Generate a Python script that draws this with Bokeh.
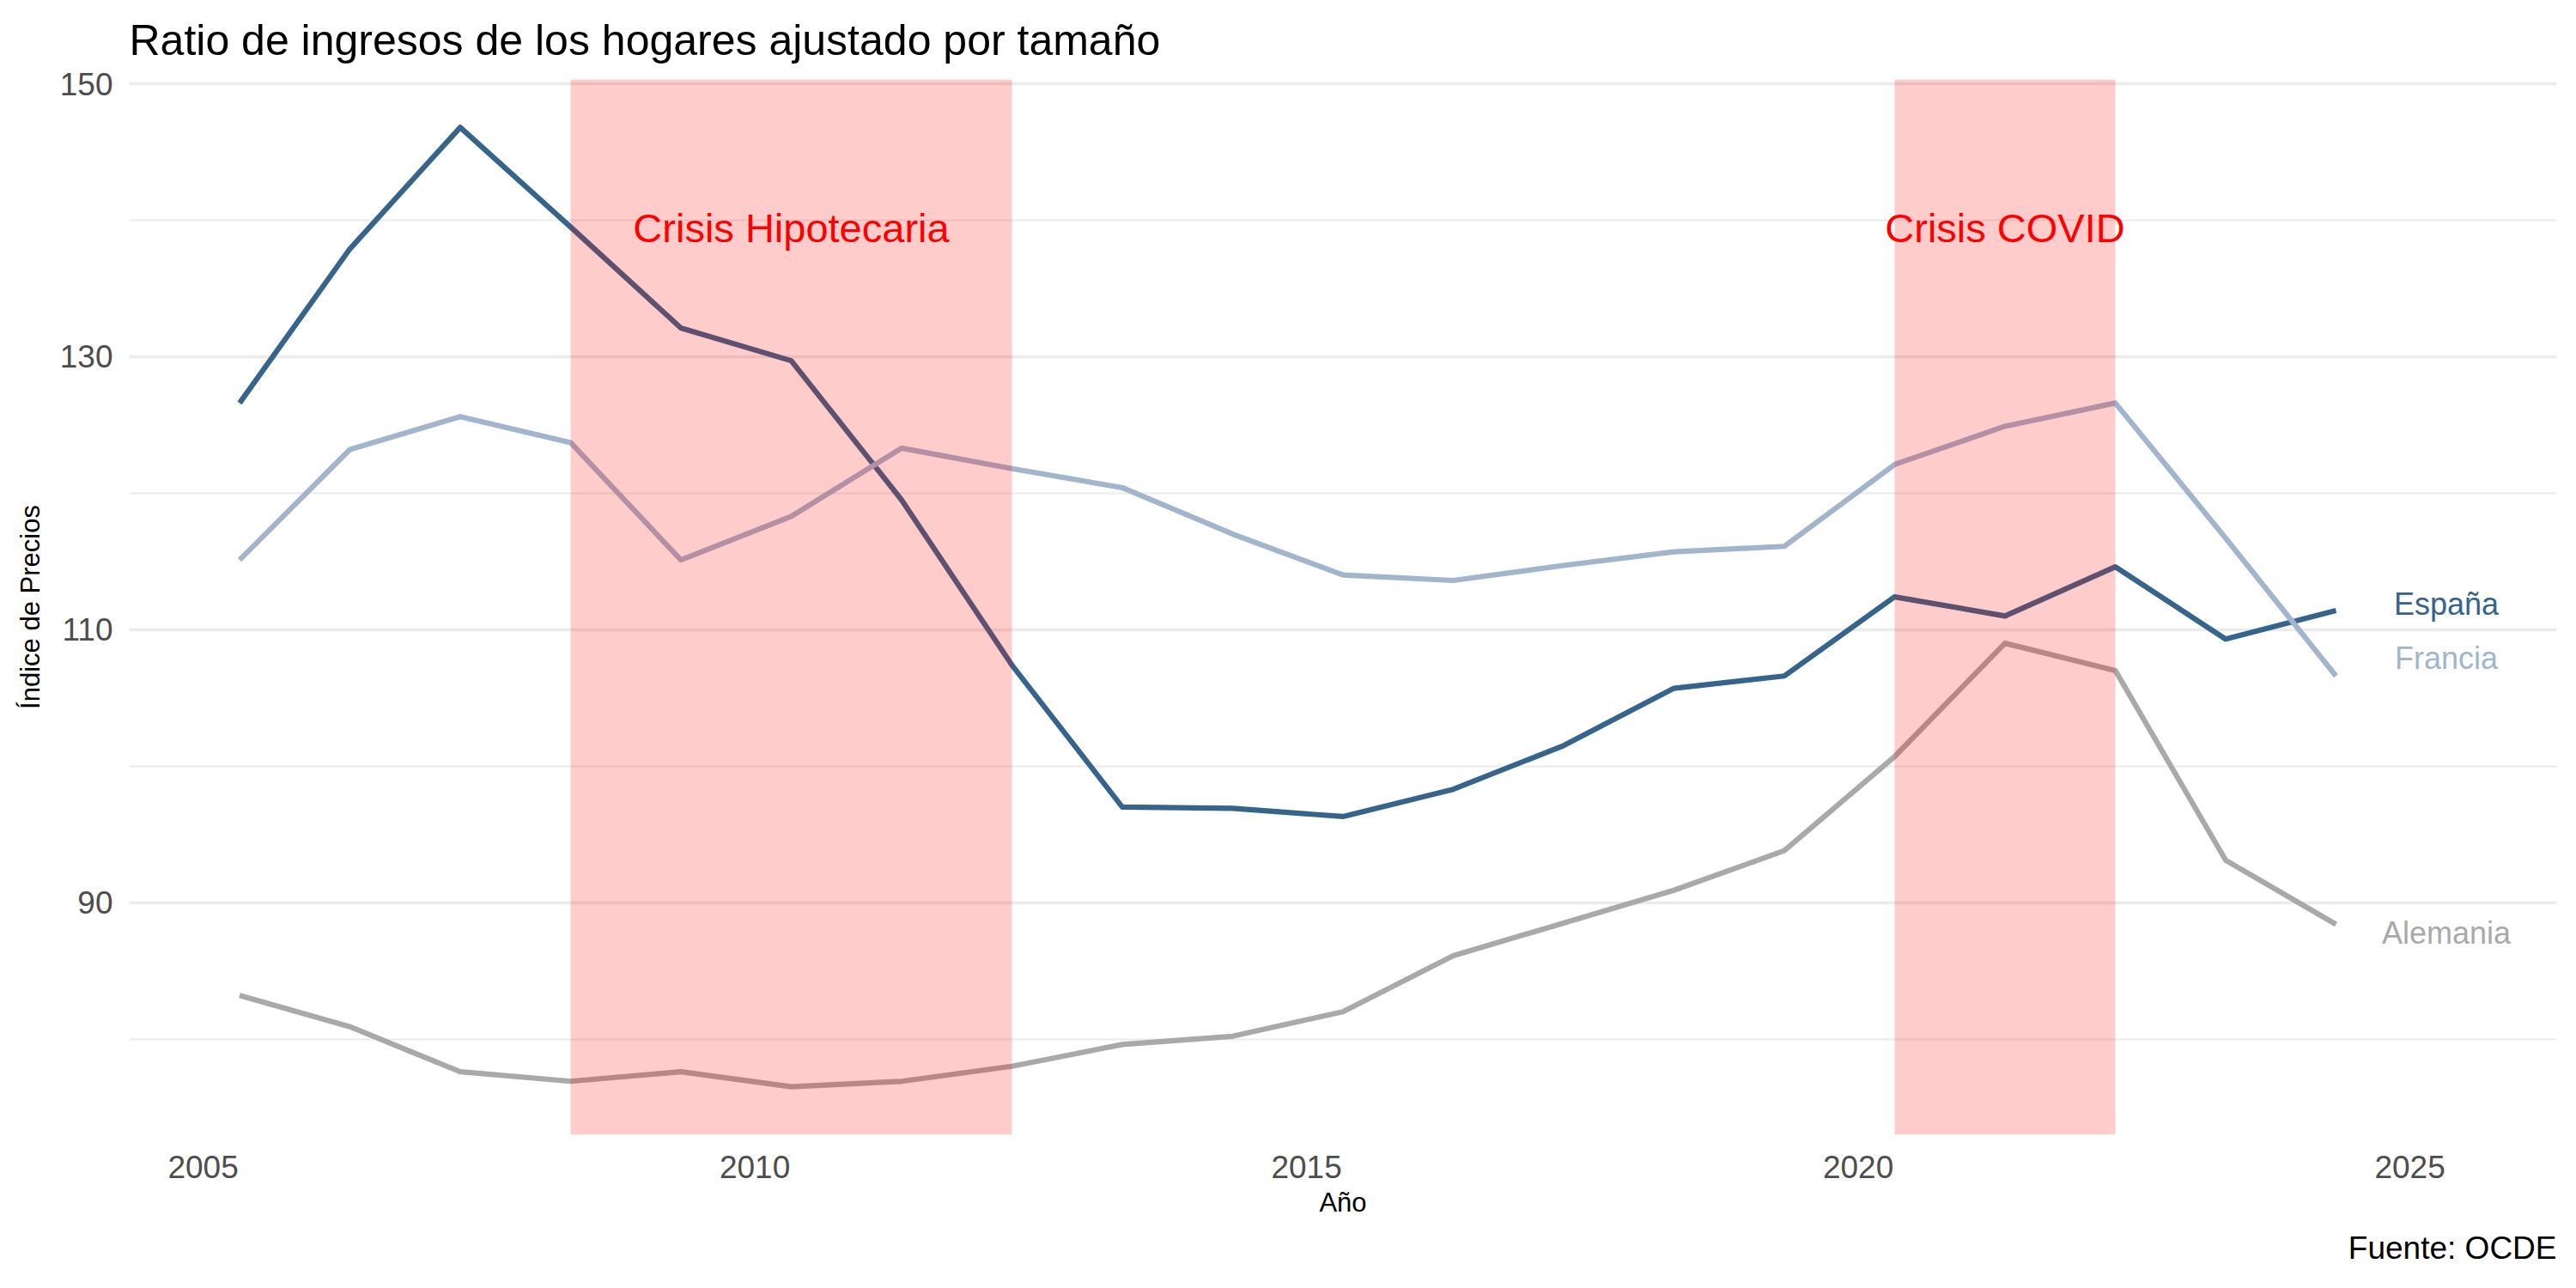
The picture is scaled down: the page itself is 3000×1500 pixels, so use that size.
import numpy as np
from bokeh.plotting import figure
from bokeh.models import Range1d, FixedTicker, Title
from bokeh.core.properties import value
from bokeh.embed import file_html
from bokeh.resources import INLINE

# ---------------- data ----------------
anios = list(range(2005, 2025))
fecha_offset = 0.33  # observations dated around 1 May of each year

espana = [126.6, 137.9, 146.8, 139.5, 132.1, 129.7, 119.5, 107.4, 97.0, 96.9,
          96.3, 98.3, 101.5, 105.7, 106.6, 112.4, 111.0, 114.6, 109.3, 111.4]
francia = [115.1, 123.2, 125.6, 123.7, 115.1, 118.3, 123.3, 121.8, 120.4, 117.0,
           114.0, 113.6, 114.7, 115.7, 116.1, 122.1, 124.9, 126.6, 116.7, 106.6]
alemania = [83.2, 80.9, 77.6, 76.9, 77.6, 76.5, 76.9, 78.0, 79.6, 80.2,
            82.0, 86.1, 88.5, 90.9, 93.8, 100.7, 109.0, 107.0, 93.1, 88.4]

paises = ["España", "Francia", "Alemania"]
series = [espana, francia, alemania]
colores = ["#36648B", "#A2B5CD", "#A9A9A9"]
etiqueta_nudge = [0.5, 1.3, -0.6]

crisis_nombres = ["Crisis Hipotecaria", "Crisis COVID"]
crisis_inicio = [2008, 2020]
crisis_fin = [2012, 2022]
crisis_label_y = 139.4

x_ticks = [2005, 2010, 2015, 2020, 2025]
y_ticks = [90, 110, 130, 150]
y_minor = [80, 100, 120, 140]

titulo = "Ratio de ingresos de los hogares ajustado por tamaño"
fuente = "Fuente: OCDE"

FONT = "Liberation Sans"

# ---------------- derived ----------------
x = [a + fecha_offset for a in anios]
x_label = x[-1] + 1
all_y = espana + francia + alemania
ymin, ymax = min(all_y), max(all_y)
ypad = 0.05 * (ymax - ymin)
xmin, xmax = x[0], x_label
xpad = 0.05 * (xmax - xmin)
y_start, y_end = ymin - ypad, ymax + ypad
x_start, x_end = xmin - xpad, xmax + xpad

p = figure(width=2984, height=1484, output_backend="svg", toolbar_location=None,
           x_range=Range1d(x_start, x_end),
           y_range=Range1d(y_start, y_end),
           min_border_left=150, min_border_right=7,
           min_border_top=92, min_border_bottom=163)

p.outline_line_color = None
p.background_fill_color = "white"
p.border_fill_color = "white"

p.title.text = titulo
p.title.text_font = FONT
p.title.text_font_size = "50px"
p.title.text_font_style = "normal"
p.title.text_color = "black"
p.title.align = "left"
p.title.vertical_align = "top"
p.title.standoff = 32
p.title.offset = 0

# axes
for ax in (p.xaxis[0], p.yaxis[0]):
    ax.axis_line_color = None
    ax.major_tick_line_color = None
    ax.minor_tick_line_color = None
    ax.major_tick_out = 0
    ax.major_tick_in = 0
    ax.minor_tick_out = 0
    ax.minor_tick_in = 0
    ax.major_label_text_font = FONT
    ax.major_label_text_font_size = "37px"
    ax.major_label_text_color = "#4D4D4D"
    ax.axis_label_text_font = FONT
    ax.axis_label_text_font_size = "31px"
    ax.axis_label_text_font_style = "normal"
    ax.axis_label_text_color = "black"

p.xaxis.axis_label = "Año"
p.yaxis.axis_label = "Índice de Precios"
p.xaxis.ticker = FixedTicker(ticks=x_ticks)
p.yaxis.ticker = FixedTicker(ticks=y_ticks, minor_ticks=y_minor)
p.xaxis.major_label_standoff = 24
p.yaxis.major_label_standoff = 19
p.xaxis.axis_label_standoff = 8
p.yaxis.axis_label_standoff = 14

p.xgrid.visible = False
p.ygrid.grid_line_color = "#EBEBEB"
p.ygrid.grid_line_width = 3.5
p.ygrid.minor_grid_line_color = "#EBEBEB"
p.ygrid.minor_grid_line_width = 1.8

# lines
for nombre, ys, col in zip(paises, series, colores):
    p.line(x, ys, line_color=col, line_width=6.2, line_join="round")

# crisis shading on top of lines
p.quad(left=[a + fecha_offset for a in crisis_inicio],
       right=[a + fecha_offset for a in crisis_fin],
       bottom=[y_start] * len(crisis_inicio), top=[y_end] * len(crisis_inicio),
       fill_color="red", fill_alpha=0.2, line_color=None)

# crisis labels
p.text(x=[(a + b) / 2 + fecha_offset for a, b in zip(crisis_inicio, crisis_fin)],
       y=[crisis_label_y] * len(crisis_nombres), text=crisis_nombres,
       text_color="red", text_font=value(FONT), text_font_size="47px",
       text_align="center", text_baseline="middle")

# end labels
for nombre, ys, col, nud in zip(paises, series, colores, etiqueta_nudge):
    p.text(x=[x_label], y=[ys[-1] + nud], text=[nombre], text_color=col,
           text_font=value(FONT), text_font_size="36px",
           text_align="center", text_baseline="middle")

cap = Title(text=fuente, align="right", text_font=FONT,
            text_font_size="37px", text_font_style="normal", text_color="black",
            standoff=20)
p.add_layout(cap, "below")

open("out.html", "w").write(file_html(p, INLINE))
